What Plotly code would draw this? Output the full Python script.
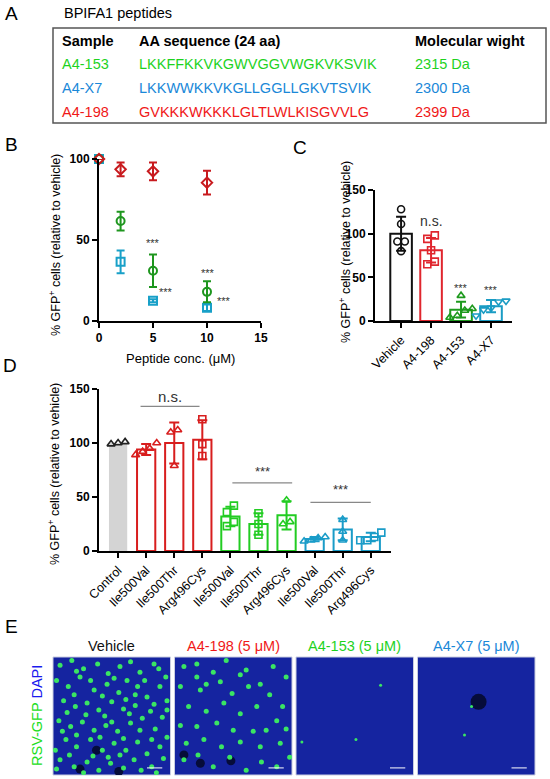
import plotly.graph_objects as go
import numpy as np

W, H = 550, 779
FONT = "Liberation Sans"

# ---- panel A : peptide table
table_header = ["Sample", "AA sequence (24 aa)", "Molecular wight"]
peptide_names = ["A4-153", "A4-X7", "A4-198"]
peptide_seqs = ["LKKFFKKVKGWVGGVWGKVKSVIK", "LKKWWKKVKGLLGGLLGKVTSVIK", "GVKKKWKKKLGLTLWLKISGVVLG"]
peptide_mw = ["2315 Da", "2300 Da", "2399 Da"]
peptide_colors = ["#1ed21e", "#1a88d8", "#f01818"]

# ---- panel B : dose response
conc = [0, 2, 5, 10]
b_series = ["A4-X7", "A4-153", "A4-198"]
b_means = [[100, 36.5, 12.5, 8.2], [100, 61.7, 31, 18], [100, 93.6, 92.4, 85.4]]
b_sd = [[0, 7, 1, 2], [0, 5.8, 10, 6.5], [0, 4.3, 5.5, 7.3]]
b_colors = ["#18a0c8", "#1e961e", "#c81a1e"]
b_symbols = ["square-open", "circle-open", "diamond-open"]
b_star_x = [5, 6.2, 10.1, 11.6]
b_star_y = [48, 18, 29.5, 12.5]

# ---- panel C : 5 uM peptides
c_labels = ["Vehicle", "A4-198", "A4-153", "A4-X7"]
c_means = [100, 81, 13, 17]
c_sd = [19.5, 14, 9, 7]
c_points = [[128, 111, 91, 91, 80], [98, 94, 81, 65, 68], [29, 14, 12, 6, 4], [23, 22, 15, 13, 6]]
c_colors = ["#111111", "#e0262e", "#1e9a1e", "#1a9cc4"]
c_symbols = ["circle-open", "square-open", "triangle-up-open", "triangle-down-open"]
c_marks = ["", "n.s.", "***", "***"]
c_mark_y = [0, 115, 38, 36]

# ---- panel D : variants
d_labels = ["Control", "Ile500Val", "Ile500Thr", "Arg496Cys", "Ile500Val", "Ile500Thr",
            "Arg496Cys", "Ile500Val", "Ile500Thr", "Arg496Cys"]
d_means = [100, 94, 100, 103, 32, 25, 33, 11, 20, 13]
d_sd = [0, 5, 19, 18, 9, 10, 13, 2, 10, 4]
d_points = [[99, 101, 100], [100, 95, 89, 92], [112, 110, 79], [122, 99, 88],
            [42, 36, 27, 23], [35, 25, 15], [47, 27, 25], [13, 12, 10, 9],
            [29, 18, 10], [17, 13, 10, 10]]
d_colors = ["#222222", "#d81e1e", "#d81e1e", "#d81e1e", "#22cc22", "#22cc22", "#22cc22",
            "#1a9cc8", "#1a9cc8", "#1a9cc8"]
d_symbols = ["triangle-up-open", "triangle-up-open", "triangle-up-open", "square-open",
             "square-open", "square-open", "triangle-up-open", "triangle-up-open",
             "triangle-up-open", "square-open"]
d_brackets = [(0.8, 2.9, 134, "n.s.", 143), (4.07, 6.2, 63, "***", 74), (6.85, 9.0, 45, "***", 57)]

# ---- panel E : images (spot positions in % of the frame)
e_titles = ["Vehicle", "A4-198 (5 μM)", "A4-153 (5 μM)", "A4-X7 (5 μM)"]
e_title_colors = ["#111111", "#f01818", "#1ed21e", "#1a88d8"]
e_spots_x = [
    [6, 16, 26, 38, 47, 57, 66, 74, 86, 96, 3, 13, 23, 35, 46, 56, 63, 72, 80, 91, 97, 9, 19, 29, 39,
     50, 60, 70, 83, 93, 5, 15, 25, 35, 45, 55, 66, 74, 87, 11, 20, 32, 42, 52, 62, 72, 80, 91, 6, 18,
     29, 39, 49, 60, 69, 84, 94, 2, 97, 20, 32, 52, 78, 90, 12, 28, 44, 65, 76, 97, 8, 20, 40, 60, 84,
     14, 34, 47, 57, 75, 88, 26, 70, 42, 18, 62, 86, 3, 50],
    [8, 19, 33, 56, 73, 84, 95, 5, 22, 39, 49, 63, 81, 92, 12, 27, 42, 56, 70, 87, 5, 19, 36, 50, 67,
     78, 95, 10, 25, 40, 56, 73, 90, 8, 20, 33, 47, 61, 74, 87, 98, 27, 61, 44, 19],
    [51, 72, 5],
    [46, 40],
]
e_spots_y = [
    [7, 3, 10, 6, 14, 8, 4, 13, 6, 17, 20, 25, 17, 28, 23, 30, 20, 25, 34, 25, 37, 37, 42, 39, 45,
     38, 44, 41, 46, 51, 54, 59, 55, 62, 58, 63, 56, 62, 61, 70, 76, 70, 79, 73, 79, 72, 82, 76, 87, 93,
     89, 96, 90, 94, 87, 93, 86, 79, 68, 12, 20, 18, 20, 10, 47, 49, 50, 48, 52, 45, 63, 66, 68, 69, 70,
     83, 84, 85, 83, 96, 98, 98, 32, 33, 32, 36, 40, 95, 55],
    [8, 6, 13, 15, 23, 8, 17, 25, 28, 21, 31, 25, 32, 42, 42, 46, 39, 48, 42, 54, 58, 59, 56, 62, 63,
     62, 61, 73, 70, 76, 72, 76, 73, 87, 83, 93, 85, 96, 89, 93, 85, 23, 11, 3, 17],
    [70, 24, 72],
    [42, 66],
]
e_holes_x = [[37, 23, 56], [8, 22, 48], [], [52]]
e_holes_y = [[79, 95, 97], [83, 90, 88], [], [38]]


def px(x):
    return x / W


def py(y):
    return 1 - y / H


def swarm(vals, tol, step):
    offs = [0.0] * len(vals)
    groups = []
    for i in np.argsort(vals):
        if groups and abs(vals[i] - vals[groups[-1][-1]]) < tol:
            groups[-1].append(i)
        else:
            groups.append([i])
    for g in groups:
        for k, i in enumerate(g):
            offs[i] = (k - (len(g) - 1) / 2) * step
    return offs


fig = go.Figure()
annots = []
shapes = []

# panel letters
for letter, lx, ly in [("A", 11, 14), ("B", 11, 145), ("C", 300, 147), ("D", 10, 365), ("E", 11, 626)]:
    annots.append(dict(x=px(lx), y=py(ly), text=letter, font=dict(size=19, color="black")))

# ---- A
annots.append(dict(x=px(62), y=py(13), text="BPIFA1 peptides", xanchor="left", font=dict(size=14.5)))
shapes.append(dict(type="rect", xref="paper", yref="paper", x0=px(53), x1=px(546), y0=py(123), y1=py(28),
                   line=dict(color="#555555", width=1.5)))
col_x = [60, 137, 413]
for cx, t in zip(col_x, table_header):
    annots.append(dict(x=px(cx), y=py(41), text="<b>" + t + "</b>", xanchor="left", font=dict(size=14.5)))
for i in range(3):
    ry = 64 + i * 24
    for cx, t in zip(col_x, [peptide_names[i], peptide_seqs[i], peptide_mw[i]]):
        annots.append(dict(x=px(cx), y=py(ry), text=t, xanchor="left",
                           font=dict(size=14.5, color=peptide_colors[i])))

# ---- B
for i in range(3):
    fig.add_trace(go.Scatter(
        x=conc, y=b_means[i], mode="markers", name=b_series[i], xaxis="x", yaxis="y",
        error_y=dict(type="data", array=b_sd[i], color=b_colors[i], thickness=2, width=4),
        marker=dict(symbol=b_symbols[i], size=8, color=b_colors[i], line=dict(width=2, color=b_colors[i])),
        cliponaxis=False, showlegend=False))
for sx, sy in zip(b_star_x, b_star_y):
    annots.append(dict(x=sx, y=sy, xref="x", yref="y", text="***", showarrow=False,
                       font=dict(size=11, color="#333333")))

# ---- C
c_offs = [swarm(p, 8, 0.25) for p in c_points]
for i in range(4):
    fig.add_trace(go.Bar(
        x=[i], y=[c_means[i]], width=0.72, xaxis="x2", yaxis="y2", showlegend=False,
        marker=dict(color="white", line=dict(color=c_colors[i], width=2)),
        error_y=dict(type="data", array=[c_sd[i]], color=c_colors[i], thickness=2, width=5)))
    fig.add_trace(go.Scatter(
        x=[i + o for o in c_offs[i]], y=c_points[i], mode="markers", xaxis="x2", yaxis="y2",
        marker=dict(symbol=c_symbols[i], size=7, color=c_colors[i], line=dict(width=1.6, color=c_colors[i])),
        cliponaxis=False, showlegend=False))
    if c_marks[i]:
        annots.append(dict(x=i, y=c_mark_y[i], xref="x2", yref="y2", text=c_marks[i], showarrow=False,
                           font=dict(size=14 if c_marks[i] == "n.s." else 11, color="#333333")))

# ---- D
d_offs = [swarm(p, 6.5, 0.25) for p in d_points]
for i in range(10):
    ctrl = i == 0
    fig.add_trace(go.Bar(
        x=[i], y=[d_means[i]], width=0.65, xaxis="x3", yaxis="y3", showlegend=False,
        marker=dict(color="#d4d4d4" if ctrl else "white",
                    line=dict(color=d_colors[i], width=0 if ctrl else 2)),
        error_y=dict(type="data", array=[d_sd[i]], color=d_colors[i], thickness=2, width=5,
                     visible=not ctrl)))
    fig.add_trace(go.Scatter(
        x=[i + o for o in d_offs[i]], y=d_points[i], mode="markers", xaxis="x3", yaxis="y3",
        marker=dict(symbol=d_symbols[i], size=7, color=d_colors[i], line=dict(width=1.6, color=d_colors[i])),
        cliponaxis=False, showlegend=False))
for x0, x1, ly, txt, ty in d_brackets:
    shapes.append(dict(type="line", xref="x3", yref="y3", x0=x0, x1=x1, y0=ly, y1=ly,
                       line=dict(color="#888888", width=1.3)))
    annots.append(dict(x=(x0 + x1) / 2, y=ty, xref="x3", yref="y3", text=txt, showarrow=False,
                       font=dict(size=15 if txt == "n.s." else 13, color="#333333")))

# ---- E
e_left = [53, 174.5, 296, 417.5]
for k in range(4):
    xa, ya = "x%d" % (k + 4), "y%d" % (k + 4)
    shapes.append(dict(type="rect", xref=xa + " domain", yref=ya + " domain", x0=0, x1=1, y0=0, y1=1,
                       fillcolor="#1524a0", line=dict(color="#c8cce0", width=1), layer="below"))
    if e_holes_x[k]:
        fig.add_trace(go.Scatter(
            x=e_holes_x[k], y=e_holes_y[k], mode="markers", xaxis=xa, yaxis=ya, showlegend=False,
            marker=dict(size=16 if k == 3 else 9, color="#060c3a", line=dict(width=0))))
    fig.add_trace(go.Scatter(
        x=e_spots_x[k], y=e_spots_y[k], mode="markers", xaxis=xa, yaxis=ya, showlegend=False,
        marker=dict(size=5 if k < 2 else 3, color="#3cf060", opacity=0.95, line=dict(width=0))))
    shapes.append(dict(type="line", xref=xa, yref=ya, x0=80, x1=93, y0=94, y1=94,
                       line=dict(color="white", width=1)))
    annots.append(dict(x=px(e_left[k] + 58.75), y=py(646), text=e_titles[k],
                       font=dict(size=14.5, color=e_title_colors[k])))
annots.append(dict(x=px(37), y=py(716), textangle=-90,
                   text='<span style="color:#22dd22">RSV-GFP</span> <span style="color:#1a1aee">DAPI</span>',
                   font=dict(size=14.5)))

# axis titles
ytitle = "% GFP<sup>+</sup> cells (relative to vehicle)"
for tx, ty in [(55, 245), (345, 252), (54, 474)]:
    annots.append(dict(x=px(tx), y=py(ty), text=ytitle, textangle=-90, font=dict(size=12.5)))
annots.append(dict(x=px(180), y=py(358), text="Peptide conc. (μM)", font=dict(size=13)))

for a in annots:
    a.setdefault("xref", "paper")
    a.setdefault("yref", "paper")
    a.setdefault("showarrow", False)
    a.setdefault("xanchor", "center")
    a.setdefault("yanchor", "middle")

axis_style = dict(showline=True, linecolor="black", linewidth=2, ticks="outside", ticklen=5,
                  tickwidth=2, tickcolor="black", showgrid=False, zeroline=False, automargin=False,
                  tickfont=dict(family=FONT, size=12, color="black", weight="bold"))
cat_font = dict(family=FONT, size=12.5, color="black")

layout = dict(
    width=W, height=H, margin=dict(l=0, r=0, t=0, b=0, autoexpand=False),
    paper_bgcolor="white", plot_bgcolor="rgba(0,0,0,0)",
    font=dict(family=FONT, color="black"),
    barmode="overlay", showlegend=False,
    xaxis=dict(axis_style, domain=[px(99), px(261)], range=[0, 15], tickvals=[0, 5, 10, 15], anchor="y"),
    yaxis=dict(axis_style, domain=[py(321), py(159)], range=[0, 100], tickvals=[0, 50, 100], anchor="x"),
    xaxis2=dict(axis_style, domain=[px(375), px(512)], range=[-0.87, 3.7], tickvals=[0, 1, 2, 3],
                ticktext=c_labels, tickangle=-45, tickfont=cat_font, anchor="y2"),
    yaxis2=dict(axis_style, domain=[py(321), py(190)], range=[0, 150], tickvals=[0, 50, 100, 150], anchor="x2"),
    xaxis3=dict(axis_style, domain=[px(99), px(391)], range=[-0.68, 9.72], tickvals=list(range(10)),
                ticktext=d_labels, tickangle=-45, tickfont=cat_font, anchor="y3"),
    yaxis3=dict(axis_style, domain=[py(551), py(389)], range=[0, 150], tickvals=[0, 50, 100, 150], anchor="x3"),
    annotations=annots, shapes=shapes,
)
for k in range(4):
    layout["xaxis%d" % (k + 4)] = dict(domain=[px(e_left[k]), px(e_left[k] + 117.5)], range=[0, 100],
                                       visible=False, automargin=False, anchor="y%d" % (k + 4))
    layout["yaxis%d" % (k + 4)] = dict(domain=[py(775), py(657)], range=[100, 0], visible=False,
                                       automargin=False, anchor="x%d" % (k + 4))

fig.update_layout(layout)
fig.write_html("out.html", config={"displayModeBar": False},
               post_script="document.body.style.margin='0px';document.body.style.overflow='hidden';")
